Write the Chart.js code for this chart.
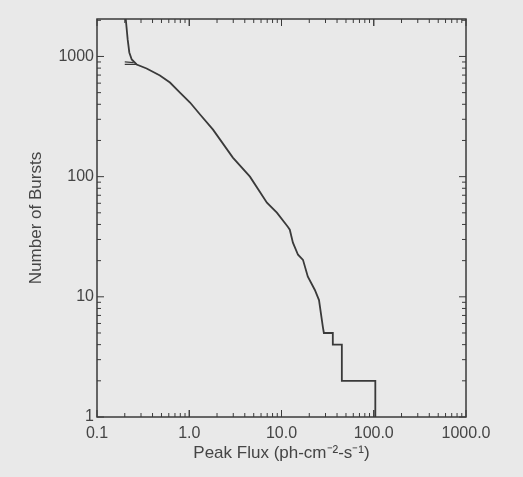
<!DOCTYPE html>
<html>
<head>
<meta charset="utf-8">
<script src="https://cdn.jsdelivr.net/npm/chart.js@4"></script>
<style>
  html, body { margin: 0; padding: 0; background: #e9e9e9; }
  #wrap { width: 523px; height: 477px; }
</style>
</head>
<body>
<div id="wrap"><canvas id="chart" width="523" height="477"></canvas></div>
<script>
// ピークフラックス分布 (累積)
const fluxValues = [0.205, 0.215, 0.224, 0.238, 0.269, 0.345, 0.481, 0.618, 0.793, 1.02,
    1.31, 1.81, 2.97, 4.55, 6.95, 8.91, 11.7, 12.3, 13.3, 15.1, 17.1, 19.3, 23.0, 25.5,
    27.4, 28.1, 28.8, 36.0, 36.0, 45.1, 45.1, 104, 104];
const burstCounts = [2050, 1386, 1080, 944, 858, 794, 695, 607, 501, 414,
    329, 246, 144, 100, 60.7, 50.1, 38.3, 36.2, 28.2, 22.4, 20.3, 14.7, 11.4, 9.4,
    6.4, 5.6, 5, 5, 4, 4, 2, 2, 1];

// 始点付近の短い線
const extraFluxA = [0.2, 0.25];
const extraCountA = [900, 890];
const extraFluxB = [0.2, 0.27];
const extraCountB = [860, 858];

const xTickValues = [0.1, 1, 10, 100, 1000];
const xTickLabels = ['0.1', '1.0', '10.0', '100.0', '1000.0'];
const yTickValues = [1, 10, 100, 1000];
const yTickLabels = ['1', '10', '100', '1000'];

const INK = '#3a3a3a';
const TEXT = '#454545';
const toPoints = (xs, ys) => xs.map((x, i) => ({ x: x, y: ys[i] }));

// 内向きの目盛りと枠を描く
const framePlugin = {
    id: 'frame',
    afterDraw(chart) {
        const { ctx, chartArea: a, scales } = chart;
        ctx.save();
        ctx.strokeStyle = INK;
        ctx.lineWidth = 1.5;
        ctx.strokeRect(a.left, a.top, a.right - a.left, a.bottom - a.top);
        ctx.lineWidth = 1;
        ctx.beginPath();
        // x軸
        for (let d = 0.1; d < 1000; d *= 10) {
            for (let m = 1; m <= 10; m++) {
                const v = d * m;
                const px = scales.x.getPixelForValue(v);
                const len = (m === 1 || m === 10) ? 7 : 4;
                ctx.moveTo(px, a.bottom); ctx.lineTo(px, a.bottom - len);
                ctx.moveTo(px, a.top); ctx.lineTo(px, a.top + len);
            }
        }
        // y軸
        for (let d = 1; d < 10000; d *= 10) {
            for (let m = 1; m <= 9; m++) {
                const v = d * m;
                if (v > scales.y.max) break;
                const py = scales.y.getPixelForValue(v);
                const len = m === 1 ? 7 : 4;
                ctx.moveTo(a.left, py); ctx.lineTo(a.left + len, py);
                ctx.moveTo(a.right, py); ctx.lineTo(a.right - len, py);
            }
        }
        ctx.stroke();
        ctx.restore();
    }
};

const lineStyle = {
    borderColor: INK,
    borderWidth: 1.8,
    pointRadius: 0,
    fill: false,
    tension: 0
};

new Chart(document.getElementById('chart'), {
    type: 'line',
    data: {
        datasets: [
            Object.assign({ data: toPoints(fluxValues, burstCounts) }, lineStyle),
            Object.assign({ data: toPoints(extraFluxA, extraCountA) }, lineStyle, { borderWidth: 1.2 }),
            Object.assign({ data: toPoints(extraFluxB, extraCountB) }, lineStyle, { borderWidth: 1.2 })
        ]
    },
    options: {
        responsive: false,
        animation: false,
        layout: { padding: { top: 19, right: 57, left: 0, bottom: 0 } },
        plugins: { legend: { display: false }, tooltip: { enabled: false } },
        scales: {
            x: {
                type: 'logarithmic',
                min: 0.1,
                max: 1000,
                afterBuildTicks: s => { s.ticks = xTickValues.map(v => ({ value: v })); },
                afterFit: s => { s.height = 60; },
                grid: { display: false, drawTicks: false },
                border: { display: false },
                ticks: {
                    color: TEXT,
                    font: { family: 'Liberation Sans', size: 16 },
                    padding: 7,
                    maxRotation: 0,
                    autoSkip: false,
                    callback: (v, i) => xTickLabels[i]
                },
                title: {
                    display: true,
                    text: 'Peak Flux (ph-cm⁻²-s⁻¹)',
                    color: TEXT,
                    font: { family: 'Liberation Sans', size: 17 },
                    padding: { top: 0, bottom: 13 }
                }
            },
            y: {
                type: 'logarithmic',
                min: 1,
                max: 2050,
                afterBuildTicks: s => { s.ticks = yTickValues.map(v => ({ value: v })); },
                afterFit: s => { s.width = 97; },
                grid: { display: false, drawTicks: false },
                border: { display: false },
                ticks: {
                    color: TEXT,
                    font: { family: 'Liberation Sans', size: 16 },
                    padding: 3,
                    autoSkip: false,
                    callback: (v, i) => yTickLabels[i]
                },
                title: {
                    display: true,
                    text: 'Number of Bursts',
                    color: TEXT,
                    font: { family: 'Liberation Sans', size: 17 },
                    padding: { top: 26, bottom: 0 }
                }
            }
        }
    },
    plugins: [framePlugin]
});
</script>
</body>
</html>
